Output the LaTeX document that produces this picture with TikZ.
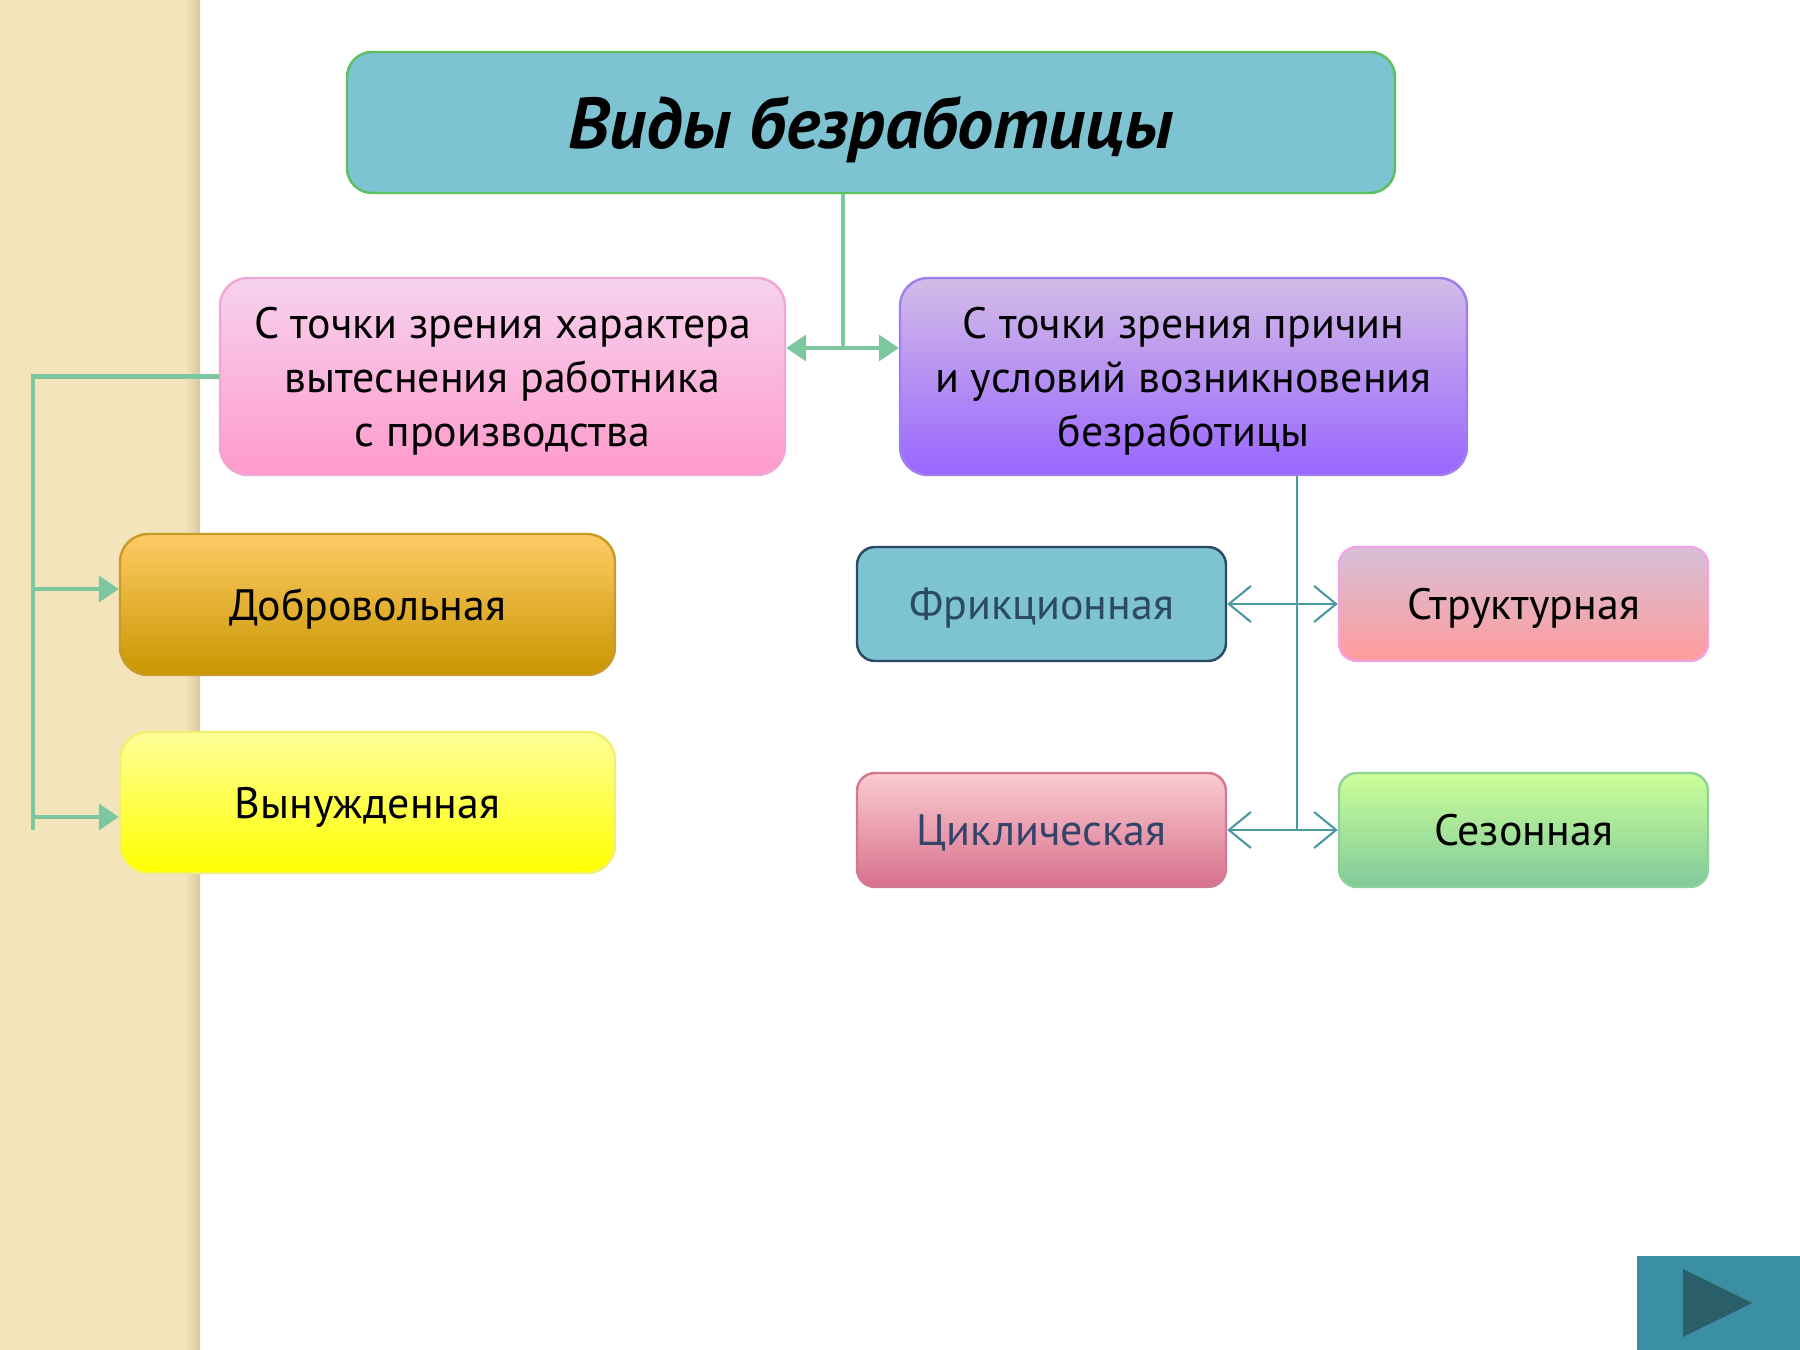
\documentclass[tikz,border=0pt]{standalone}
\usepackage{fontspec}
\setmainfont{PT Sans}
\usepackage{xcolor}
\usetikzlibrary{arrows.meta, positioning, shadings}
\definecolor{vsand}{HTML}{F3E4BC}
\definecolor{vsanddark}{HTML}{D9C9A0}
\definecolor{vteal}{HTML}{7DC3D1}
\definecolor{vgreen}{HTML}{5CC060}
\definecolor{vlink}{HTML}{7DC7A0}
\definecolor{vthin}{HTML}{4A98A0}
\definecolor{vnavy}{HTML}{2C4A66}
\definecolor{vbtn}{HTML}{3A8FA3}
\definecolor{vbtndark}{HTML}{2A5F6A}
\definecolor{vpinktop}{HTML}{F6D2EE}
\definecolor{vpinkbot}{HTML}{FF9ACC}
\definecolor{vpinkline}{HTML}{F2A6D6}
\definecolor{vviotop}{HTML}{D3BCE6}
\definecolor{vviobot}{HTML}{9966FF}
\definecolor{vvioline}{HTML}{9F7FEF}
\definecolor{vgoldtop}{HTML}{FFCB66}
\definecolor{vgoldbot}{HTML}{C89600}
\definecolor{vgoldline}{HTML}{C89A28}
\definecolor{vyeltop}{HTML}{FFFF99}
\definecolor{vyelbot}{HTML}{FFFF00}
\definecolor{vyelline}{HTML}{F2EE70}
\definecolor{vstructop}{HTML}{D6C0D8}
\definecolor{vstrucbot}{HTML}{FF9B9B}
\definecolor{vstrucline}{HTML}{F3A2E6}
\definecolor{vcycltop}{HTML}{FACCCE}
\definecolor{vcyclbot}{HTML}{D8708E}
\definecolor{vcyclline}{HTML}{D27A94}
\definecolor{vseastop}{HTML}{CCFF99}
\definecolor{vseasbot}{HTML}{80C99A}
\definecolor{vseasline}{HTML}{8ED29A}
\begin{document}
\begin{tikzpicture}[x=1cm, y=1cm,
  box/.style={rounded corners=0.28cm, line width=0.7pt, align=center, inner sep=0pt, text depth=0pt,
    font=\fontsize{12.5}{15.4}\selectfont},
  link/.style={draw=vlink, line width=1.2pt},
  thinlink/.style={draw=vthin, line width=0.6pt, {Straight Barb[length=2.2mm, width=3.6mm]}-{Straight Barb[length=2.2mm, width=3.6mm]}}]
\useasboundingbox (0,0) rectangle (18,13.5);
\fill[vsand] (0,0) rectangle (1.92,13.5);
\shade[left color=vsand, right color=vsanddark] (1.85,0) rectangle (2.0,13.5);
\node[box, rounded corners=0.25cm, fill=vteal, draw=vgreen, minimum width=10.48cm, minimum height=1.41cm,
  font=\fontsize{20.5}{24}\selectfont\bfseries\itshape]
  (title) at (8.71,12.275) {Виды безработицы};
\node[box, top color=vpinktop, bottom color=vpinkbot, draw=vpinkline, minimum width=5.65cm, minimum height=1.97cm]
  (hchar) at (5.025,9.735) {С точки зрения характера\\вытеснения работника\\с производства};
\node[box, top color=vviotop, bottom color=vviobot, draw=vvioline, minimum width=5.67cm, minimum height=1.97cm]
  (hcause) at (11.835,9.735) {С точки зрения причин\\и условий возникновения\\безработицы};
\node[box, top color=vgoldtop, bottom color=vgoldbot, draw=vgoldline, minimum width=4.95cm, minimum height=1.41cm]
  (vol) at (3.675,7.455) {Добровольная};
\node[box, top color=vyeltop, bottom color=vyelbot, draw=vyelline, minimum width=4.95cm, minimum height=1.41cm]
  (forced) at (3.675,5.475) {Вынужденная};
\node[box, rounded corners=0.18cm, fill=vteal, draw=vnavy, text=vnavy, minimum width=3.69cm, minimum height=1.14cm]
  (fric) at (10.415,7.46) {Фрикционная};
\node[box, rounded corners=0.18cm, top color=vstructop, bottom color=vstrucbot, draw=vstrucline, minimum width=3.69cm, minimum height=1.14cm]
  (struct) at (15.235,7.46) {Структурная};
\node[box, rounded corners=0.18cm, top color=vcycltop, bottom color=vcyclbot, draw=vcyclline, text=vnavy!90!violet, minimum width=3.69cm, minimum height=1.14cm]
  (cycl) at (10.415,5.20) {Циклическая};
\node[box, rounded corners=0.18cm, top color=vseastop, bottom color=vseasbot, draw=vseasline, minimum width=3.69cm, minimum height=1.14cm]
  (season) at (15.235,5.20) {Сезонная};
\coordinate (tj) at (8.43,10.02);
\coordinate (lb) at (0.33,9.735);
\coordinate (le) at (0.33,5.20);
\coordinate (rv) at (12.97,5.20);
\draw[link] (title.south -| tj) -- (tj);
\draw[link, {Triangle[length=2mm, width=2.6mm]}-{Triangle[length=2mm, width=2.6mm]}] (hchar.east |- tj) -- (hcause.west |- tj);
\draw[link] (hchar.west) -- (lb) -- (le);
\draw[link, -{Triangle[length=2mm, width=2.6mm]}] ([yshift=0.155cm]vol.west -| lb) -- ([yshift=0.155cm]vol.west);
\draw[link, -{Triangle[length=2mm, width=2.6mm]}] ([yshift=-0.145cm]forced.west -| lb) -- ([yshift=-0.145cm]forced.west);
\draw[draw=vthin, line width=0.6pt] (hcause.south -| rv) -- (rv);
\draw[thinlink] (fric.east) -- (struct.west);
\draw[thinlink] (cycl.east) -- (season.west);
\fill[vbtn] (16.37,0) rectangle (18,0.94);
\fill[vbtndark] (16.83,0.81) -- (16.83,0.13) -- (17.52,0.47) -- cycle;
\end{tikzpicture}
\end{document}
